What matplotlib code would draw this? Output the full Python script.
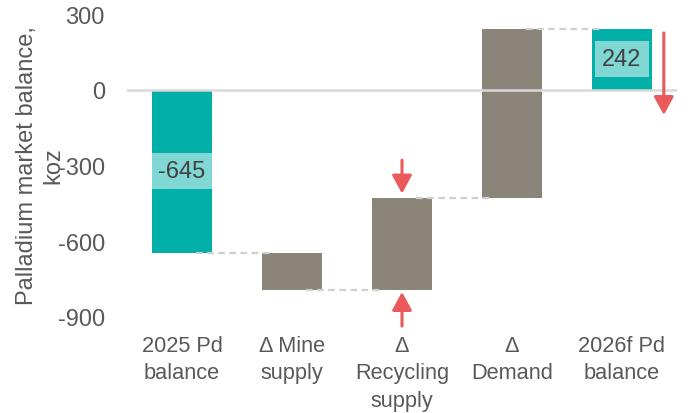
import matplotlib
matplotlib.use("Agg")
import matplotlib.pyplot as plt
from matplotlib.patches import Rectangle, FancyArrowPatch
import numpy as np

plt.rcParams['font.family'] = ['Liberation Sans', 'DejaVu Sans']

categories = ["2025 Pd\nbalance", "Δ Mine\nsupply", "Δ\nRecycling\nsupply", "Δ\nDemand", "2026f Pd\nbalance"]
values = [-645, -148, 365, 670, 242]
is_total = [True, False, False, False, True]
yticks = [-900, -600, -300, 0, 300]
ylabel = "Palladium market balance,\nkoz"

TEAL = "#00AFA8"
TEAL_LIGHT = "#80D7D3"
GREY = "#8B8479"
RED = "#EB5A5A"
DASH = "#CFCFCF"
TXT = "#595959"

fig = plt.figure(figsize=(6.99, 4.14), dpi=100)
ax = fig.add_axes([127/699, 1-318/414, 550/699, 303/414])

x = np.arange(len(categories))
bottoms, heights, ends = [], [], []
running = 0
for v, tot in zip(values, is_total):
    if tot:
        bottoms.append(0); heights.append(v); running = v
    else:
        bottoms.append(running); heights.append(v); running += v
    ends.append(running)

w = 0.545
colors = [TEAL if t else GREY for t in is_total]
ax.bar(x, heights, bottom=bottoms, width=w, color=colors, zorder=2)

# connectors
for i in range(len(values)-1):
    ax.plot([x[i]+0.13, x[i+1]-0.16], [ends[i], ends[i]], color=DASH, lw=1.6,
            ls=(0, (3, 2)), zorder=3)

# zero line
ax.axhline(0, color="#D9D9D9", lw=1.8, zorder=4)

# value labels on totals
box_h = 142
for i, (v, tot) in enumerate(zip(values, is_total)):
    if tot:
        mid = v/2
        bw = w if i == 0 else w - 0.05
        ax.add_patch(Rectangle((x[i]-bw/2, mid-box_h/2), bw, box_h, color=TEAL_LIGHT, zorder=5, lw=0))
        ax.text(x[i], mid, f"{v}", ha="center", va="center", fontsize=17, color="#404040", zorder=6)

# arrows
def arrow(x0, y0, x1, y1):
    a = FancyArrowPatch((x0, y0), (x1, y1), arrowstyle="-|>,head_length=0.55,head_width=0.3",
                        mutation_scale=20, color=RED, lw=2.2, zorder=7, shrinkA=0, shrinkB=0,
                        clip_on=False)
    ax.add_patch(a)

top3 = ends[2]
bot3 = ends[1]
arrow(2.0, top3+149, 2.0, top3+17)
arrow(2.0, bot3-143, 2.0, bot3-8)
arrow(4.38, 225, 4.38, -100)

ax.set_xlim(-0.5, 4.5)
ax.set_ylim(-900, 300)
ax.set_yticks(yticks)
ax.set_yticklabels([str(t) for t in yticks])
ax.set_xticks(x)
ax.set_xticklabels(categories, fontsize=15.7, color=TXT, linespacing=1.39)
ax.tick_params(axis='y', length=0, pad=16, labelsize=17, labelcolor=TXT)
ax.tick_params(axis='x', length=0, pad=13)
for s in ax.spines.values():
    s.set_visible(False)

fig.text(40/699, 1-166/414, ylabel, rotation=90, ha="center", va="center",
         fontsize=17, color=TXT, multialignment="center", linespacing=1.23)

fig.savefig("out.png", dpi=100)
